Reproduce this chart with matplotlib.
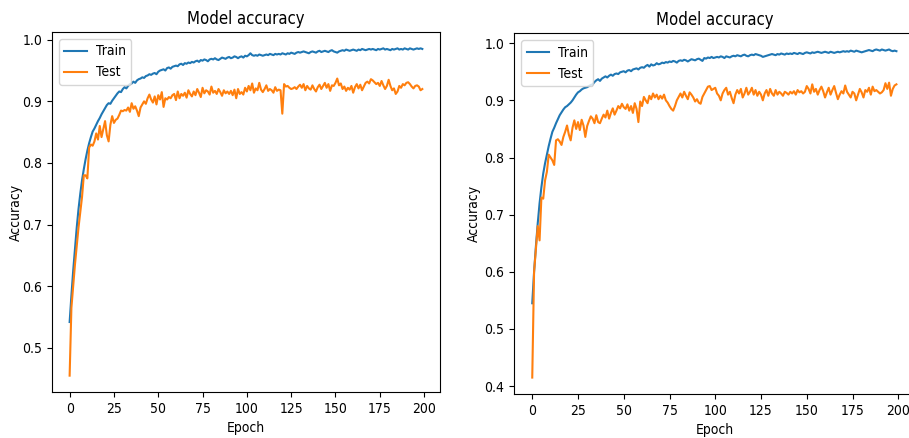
import numpy as np
import matplotlib
matplotlib.use("Agg")
import matplotlib.pyplot as plt

# the screenshot is squeezed sideways, a condensed face comes closest
plt.rcParams['font.family'] = ['DejaVu Sans']
plt.rcParams['font.stretch'] = 'condensed'

### Accuracy history read from the two training runs (200 epochs each)
epochs = np.arange(200)

train_a = [
    0.542, 0.585, 0.625, 0.66, 0.695, 0.725, 0.75, 0.772, 0.79, 0.806,
    0.82, 0.832, 0.842, 0.851, 0.856, 0.862, 0.868, 0.873, 0.879, 0.884,
    0.889, 0.894, 0.897, 0.896, 0.901, 0.905, 0.909, 0.913, 0.916, 0.915,
    0.92, 0.923, 0.921, 0.925, 0.928, 0.929, 0.932, 0.93, 0.934, 0.936,
    0.937, 0.939, 0.938, 0.941, 0.942, 0.944, 0.943, 0.945, 0.946, 0.944,
    0.948, 0.95, 0.951, 0.952, 0.95, 0.954, 0.955, 0.953, 0.956, 0.957,
    0.958, 0.957, 0.96, 0.961, 0.959, 0.962, 0.961, 0.963, 0.962, 0.964,
    0.963, 0.965, 0.966, 0.964, 0.967, 0.966, 0.968, 0.967, 0.965, 0.968,
    0.969, 0.968, 0.97, 0.968, 0.967, 0.969, 0.971, 0.97, 0.969, 0.971,
    0.972, 0.97, 0.971, 0.973, 0.972, 0.97, 0.972, 0.973, 0.971, 0.974,
    0.973, 0.975, 0.978, 0.975, 0.974, 0.975, 0.974, 0.976, 0.975, 0.974,
    0.975, 0.976, 0.975, 0.977, 0.976, 0.975, 0.977, 0.976, 0.977, 0.976,
    0.978, 0.977, 0.976, 0.978, 0.977, 0.979, 0.978, 0.977, 0.979, 0.98,
    0.979, 0.98, 0.981, 0.98, 0.979, 0.978, 0.98, 0.981, 0.98, 0.979,
    0.981, 0.982, 0.98, 0.981, 0.982, 0.981, 0.98, 0.982, 0.983, 0.981,
    0.98, 0.979, 0.981, 0.982, 0.983, 0.982, 0.984, 0.983, 0.982, 0.983,
    0.984, 0.983, 0.982, 0.984, 0.983, 0.985, 0.984, 0.983, 0.984, 0.985,
    0.984, 0.985, 0.984, 0.983, 0.985, 0.984, 0.985, 0.986, 0.984, 0.985,
    0.984, 0.983, 0.985, 0.984, 0.985, 0.986, 0.984, 0.985, 0.984, 0.986,
    0.985, 0.984, 0.986, 0.985, 0.984, 0.985, 0.986, 0.985, 0.986, 0.985,
]
test_a = [
    0.455, 0.565, 0.6, 0.635, 0.665, 0.695, 0.72, 0.745, 0.78, 0.78,
    0.775, 0.825, 0.83, 0.828, 0.835, 0.848, 0.838, 0.86, 0.842, 0.855,
    0.868, 0.845, 0.835, 0.862, 0.876, 0.865, 0.87, 0.872, 0.878, 0.885,
    0.884, 0.886, 0.885, 0.89, 0.883, 0.897, 0.888, 0.892, 0.885, 0.876,
    0.89, 0.895, 0.9, 0.896, 0.905, 0.911, 0.903, 0.898, 0.908, 0.895,
    0.91, 0.903, 0.915, 0.891, 0.905, 0.903, 0.907, 0.905, 0.91, 0.912,
    0.902, 0.916, 0.905, 0.912, 0.909, 0.914, 0.906, 0.918, 0.912, 0.908,
    0.916, 0.91, 0.92, 0.914, 0.907, 0.922, 0.913, 0.918, 0.916, 0.911,
    0.924, 0.914, 0.917, 0.912, 0.92, 0.915, 0.909, 0.918, 0.913, 0.916,
    0.912, 0.917, 0.91, 0.919, 0.905, 0.92, 0.912, 0.915, 0.911, 0.922,
    0.916, 0.925, 0.918, 0.929, 0.914, 0.921, 0.918, 0.93, 0.919, 0.915,
    0.92, 0.926, 0.917, 0.92, 0.918, 0.914, 0.923, 0.917, 0.919, 0.918,
    0.88, 0.928, 0.924, 0.925, 0.922, 0.92, 0.921, 0.923, 0.92, 0.924,
    0.927, 0.922, 0.928, 0.918, 0.925, 0.921, 0.919, 0.926, 0.92, 0.916,
    0.923, 0.927, 0.92, 0.925, 0.93, 0.922, 0.928, 0.917, 0.926, 0.925,
    0.93, 0.937, 0.926, 0.929, 0.92, 0.924, 0.917, 0.922, 0.919, 0.925,
    0.914, 0.923, 0.928, 0.921, 0.927, 0.918, 0.924, 0.93, 0.932, 0.929,
    0.936, 0.934, 0.931, 0.928, 0.93, 0.925, 0.933, 0.926, 0.92, 0.925,
    0.935, 0.925, 0.918, 0.921, 0.912, 0.916, 0.925, 0.922, 0.928, 0.926,
    0.93, 0.931, 0.928, 0.924, 0.921, 0.925, 0.926, 0.924, 0.918, 0.92,
]

train_b = [
    0.545, 0.6, 0.645, 0.685, 0.72, 0.748, 0.772, 0.79, 0.805, 0.82,
    0.833, 0.845, 0.852, 0.86, 0.867, 0.874, 0.879, 0.884, 0.888, 0.89,
    0.893, 0.896, 0.9, 0.905, 0.91, 0.914, 0.916, 0.919, 0.921, 0.922,
    0.923, 0.925, 0.927, 0.928, 0.932, 0.935, 0.937, 0.934, 0.938, 0.94,
    0.942, 0.94, 0.943, 0.945, 0.943, 0.946, 0.947, 0.946, 0.949, 0.95,
    0.951, 0.949, 0.952, 0.953, 0.951, 0.954, 0.955, 0.956, 0.954, 0.957,
    0.958, 0.957, 0.96, 0.962, 0.959, 0.963, 0.961, 0.962, 0.965, 0.963,
    0.964, 0.966, 0.965, 0.967, 0.966, 0.968, 0.967, 0.969, 0.968, 0.966,
    0.969, 0.97, 0.969, 0.971, 0.97, 0.968, 0.97, 0.972, 0.971, 0.97,
    0.972, 0.973, 0.971, 0.969, 0.974, 0.973, 0.975, 0.974, 0.976, 0.974,
    0.975, 0.976, 0.975, 0.977, 0.976, 0.974, 0.977, 0.976, 0.975, 0.977,
    0.978, 0.977, 0.979, 0.978, 0.977, 0.979, 0.98, 0.978, 0.977, 0.979,
    0.98, 0.979, 0.981, 0.98, 0.979, 0.978, 0.976, 0.977, 0.978, 0.979,
    0.98, 0.981, 0.98, 0.979, 0.981, 0.98, 0.982, 0.981, 0.98, 0.982,
    0.981, 0.982, 0.981, 0.983, 0.982, 0.981, 0.983, 0.982, 0.981, 0.983,
    0.984, 0.983, 0.982, 0.984, 0.983, 0.984, 0.985, 0.984, 0.983, 0.984,
    0.985, 0.984, 0.983, 0.985, 0.984, 0.983, 0.984, 0.985, 0.984, 0.985,
    0.986, 0.985, 0.986, 0.985, 0.987, 0.986, 0.985, 0.987, 0.986, 0.985,
    0.984, 0.985, 0.986, 0.987, 0.988, 0.987, 0.986, 0.988, 0.989, 0.988,
    0.987, 0.989, 0.988, 0.987, 0.988, 0.989, 0.987, 0.986, 0.987, 0.986,
]
test_b = [
    0.415, 0.6, 0.64, 0.68, 0.655, 0.73, 0.728, 0.76, 0.775, 0.805,
    0.8, 0.795, 0.787, 0.83, 0.832, 0.828, 0.822, 0.836, 0.845, 0.856,
    0.84, 0.83, 0.852, 0.865, 0.85, 0.862, 0.848, 0.866, 0.856, 0.836,
    0.855, 0.864, 0.872, 0.868, 0.86, 0.874, 0.862, 0.86, 0.868, 0.875,
    0.87, 0.882, 0.868, 0.878, 0.886, 0.875, 0.882, 0.89, 0.886, 0.894,
    0.888, 0.885, 0.893, 0.882, 0.89, 0.878, 0.895, 0.885, 0.862, 0.898,
    0.89, 0.906, 0.9, 0.895, 0.908, 0.902, 0.912, 0.905, 0.91, 0.902,
    0.908, 0.903, 0.91, 0.9, 0.896, 0.89, 0.885, 0.882, 0.89, 0.9,
    0.906, 0.912, 0.905, 0.915, 0.908, 0.902, 0.914, 0.91, 0.905, 0.898,
    0.902, 0.896, 0.894, 0.906, 0.912, 0.918, 0.924, 0.925, 0.918, 0.92,
    0.922, 0.912, 0.908, 0.9, 0.912, 0.918, 0.922, 0.91, 0.915, 0.904,
    0.895, 0.91, 0.918, 0.912, 0.92, 0.905, 0.912, 0.922, 0.91, 0.915,
    0.922, 0.91, 0.918, 0.908, 0.915, 0.91, 0.9, 0.912, 0.918, 0.908,
    0.92, 0.912, 0.908, 0.918, 0.91, 0.915, 0.912, 0.908, 0.915, 0.913,
    0.91, 0.915, 0.912, 0.916, 0.91, 0.918, 0.914, 0.916, 0.912, 0.915,
    0.925, 0.92, 0.912, 0.928, 0.915, 0.92, 0.91, 0.918, 0.924, 0.916,
    0.905, 0.914, 0.922, 0.91, 0.918, 0.925, 0.913, 0.902, 0.91, 0.916,
    0.912, 0.926, 0.915, 0.91, 0.905, 0.915, 0.912, 0.9, 0.91, 0.92,
    0.914, 0.905, 0.918, 0.915, 0.922, 0.91, 0.924, 0.916, 0.918, 0.915,
    0.912, 0.914, 0.918, 0.93, 0.92, 0.931, 0.908, 0.92, 0.926, 0.928,
]


def acc_panel(ax, train, test, ylab_x):
    ax.plot(epochs, train, label='Train')
    ax.plot(epochs, test, label='Test')
    ax.set_title('Model accuracy')
    ax.set_xlabel('Epoch')
    ax.set_ylabel('Accuracy')
    ax.yaxis.set_label_coords(ylab_x, 0.5)
    ax.legend(loc='upper left', handlelength=1.6, handletextpad=0.65)


fig = plt.figure(figsize=(9.09, 4.38), dpi=100)

ax1 = fig.add_axes([0.0572, 0.105, 0.4268, 0.822])
acc_panel(ax1, train_a, test_a, -0.075)

# second panel runs off the right edge, as in the original screenshot
ax2 = fig.add_axes([0.5655, 0.1005, 0.4407, 0.824])
acc_panel(ax2, train_b, test_b, -0.082)

fig.savefig('out.png', dpi=100)
